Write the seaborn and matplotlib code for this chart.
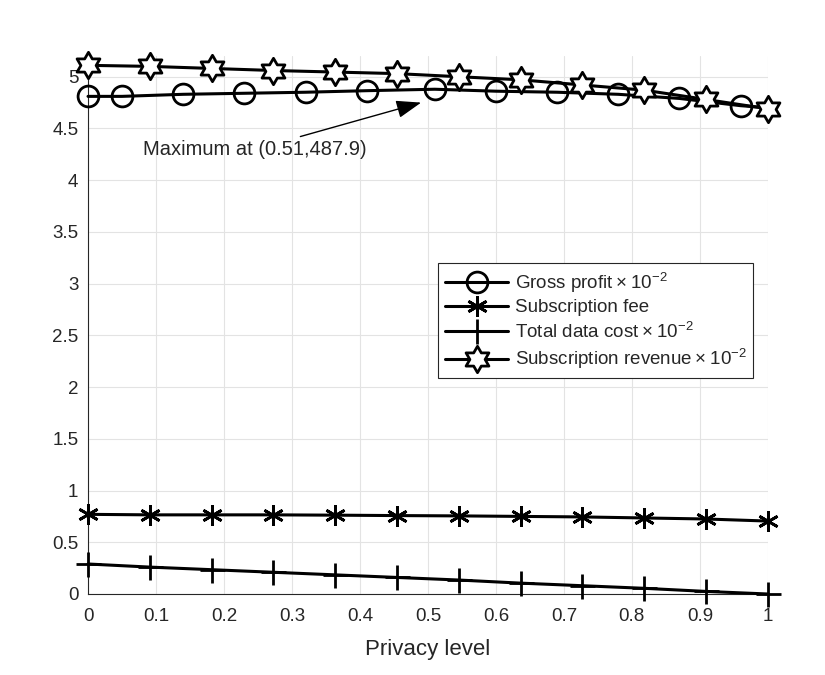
import numpy as np
import pandas as pd
import seaborn as sb
from matplotlib import pyplot as plt
from matplotlib.path import Path
from matplotlib.ticker import FormatStrFormatter

# data
x_grid = [0, 0.0909, 0.1818, 0.2727, 0.3636, 0.4545, 0.5455, 0.6364, 0.7273, 0.8182, 0.9091, 1.0]
x_profit = [0, 0.05, 0.14, 0.23, 0.32, 0.41, 0.51, 0.60, 0.69, 0.78, 0.87, 0.96, 1.0]
gross_profit = [4.81, 4.81, 4.83, 4.84, 4.85, 4.865, 4.879, 4.86, 4.85, 4.83, 4.79, 4.72, 4.70]
subscription_fee = [0.77, 0.765, 0.765, 0.765, 0.762, 0.758, 0.755, 0.75, 0.745, 0.735, 0.725, 0.705]
data_cost = [0.29, 0.26, 0.235, 0.21, 0.185, 0.16, 0.135, 0.105, 0.08, 0.055, 0.025, 0.0]
sub_revenue = [5.11, 5.10, 5.08, 5.06, 5.045, 5.03, 5.00, 4.97, 4.92, 4.87, 4.78, 4.69]

labels = ['Gross profit\u2009\u00d7\u200910$^{\\mathregular{-2}}$',
          'Subscription fee',
          'Total data cost\u2009\u00d7\u200910$^{\\mathregular{-2}}$',
          'Subscription revenue\u2009\u00d7\u200910$^{\\mathregular{-2}}$']

sb.set_style('white')
plt.rcParams['font.family'] = ['Liberation Sans', 'DejaVu Sans']
plt.rcParams['mathtext.fontset'] = 'custom'
plt.rcParams['mathtext.rm'] = 'Liberation Sans'

# six-pointed star (hexagram) marker
ang = np.pi / 2 + np.arange(12) * np.pi / 6
rad = np.where(np.arange(12) % 2 == 0, 1.0, 1 / np.sqrt(3))
star = Path(np.column_stack([rad * np.cos(ang), rad * np.sin(ang)]).tolist() + [[0, 1]], closed=True)

fig = plt.figure(figsize=(8.25, 6.75), dpi=100)
ax = fig.add_axes([0.1067, 0.12, 0.824, 0.797])

lw = 2.2
mew = 2.0
sb.lineplot(x=x_profit, y=gross_profit, ax=ax, color='black', lw=lw, marker='o', markersize=15,
            markerfacecolor='none', markeredgecolor='black', markeredgewidth=mew,
            markevery=list(range(12)), label=labels[0], clip_on=False, zorder=3)
sb.lineplot(x=x_grid, y=subscription_fee, ax=ax, color='black', lw=lw, marker=(6, 2, 0), markersize=15,
            markeredgecolor='black', markeredgewidth=mew, label=labels[1], clip_on=False, zorder=3)
sb.lineplot(x=x_grid, y=data_cost, ax=ax, color='black', lw=lw, marker='+', markersize=18,
            markeredgecolor='black', markeredgewidth=mew, label=labels[2], clip_on=False, zorder=3)
sb.lineplot(x=x_grid, y=sub_revenue, ax=ax, color='black', lw=lw, marker=star, markersize=19,
            markerfacecolor='white', markeredgecolor='black', markeredgewidth=mew, label=labels[3],
            clip_on=False, zorder=3)

ax.annotate('Maximum at (0.51,487.9)', xy=(0.49, 4.75), xytext=(0.41, 4.39),
            fontsize=14.5, ha='right', va='top',
            arrowprops=dict(arrowstyle='-|>,head_length=0.7,head_width=0.25', color='black', lw=1,
                            mutation_scale=22, shrinkA=0, shrinkB=0))

ax.set_xlim(0, 1)
ax.set_ylim(0, 5.2)
ax.set_xticks(np.arange(0, 1.01, 0.1))
ax.set_yticks(np.arange(0, 5.01, 0.5))
ax.xaxis.set_major_formatter(FormatStrFormatter('%g'))
ax.yaxis.set_major_formatter(FormatStrFormatter('%g'))
ax.tick_params(direction='in', length=5, labelsize=13.5, colors='#262626', width=0.8)
ax.tick_params(axis='x', pad=10)
ax.tick_params(axis='y', pad=7)
ax.grid(True, color='#e3e3e3', lw=0.8)
for s in ['top', 'right']:
    ax.spines[s].set_visible(False)
for s in ['left', 'bottom']:
    ax.spines[s].set_color('#262626')
    ax.spines[s].set_linewidth(0.8)
ax.set_xlabel('Privacy level', fontsize=16, color='#262626', labelpad=10)

leg = ax.legend(loc='upper left', bbox_to_anchor=(0.515, 0.615), borderaxespad=0, fontsize=13.5,
                frameon=True, fancybox=False, edgecolor='#262626', handlelength=3.4, borderpad=0.35,
                labelspacing=0.25, handletextpad=0.35, framealpha=1)
leg.get_frame().set_linewidth(0.8)

plt.savefig('out.png', dpi=100)
